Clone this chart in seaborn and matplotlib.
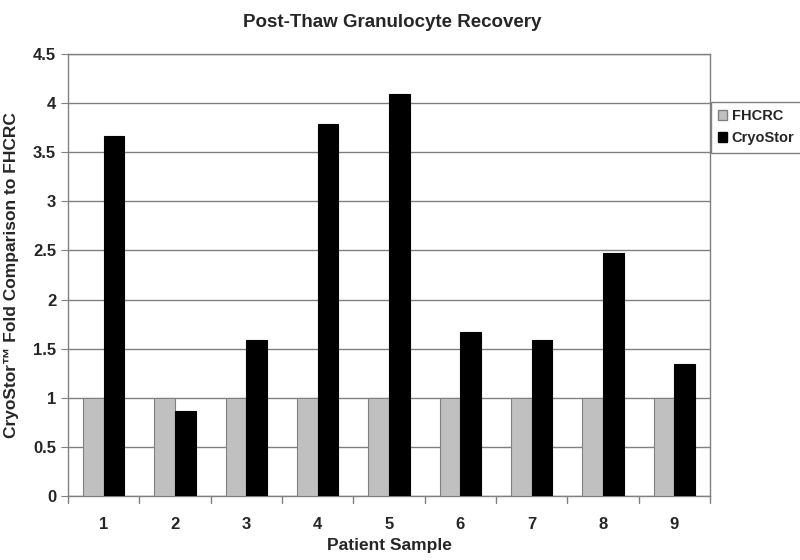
import matplotlib
matplotlib.use("Agg")
import matplotlib.pyplot as plt
import seaborn as sns
import pandas as pd

sns.set_style("white")
plt.rcParams["font.family"] = ["Liberation Sans", "DejaVu Sans"]

patients = ["1", "2", "3", "4", "5", "6", "7", "8", "9"]
fhcrc = [1, 1, 1, 1, 1, 1, 1, 1, 1]
cryostor = [3.66, 0.87, 1.59, 3.79, 4.09, 1.67, 1.59, 2.47, 1.34]

palette = {"FHCRC": "#c0c0c0", "CryoStor": "#000000"}

df = pd.DataFrame({
    "patient": patients * 2,
    "value": fhcrc + cryostor,
    "group": ["FHCRC"] * len(patients) + ["CryoStor"] * len(patients),
})

fig = plt.figure(figsize=(8, 5.6), dpi=100)
ax = fig.add_axes([0.085, 0.114, 0.8025, 0.79])

sns.barplot(data=df, x="patient", y="value", hue="group", palette=palette,
            width=0.58, gap=0, saturation=1, ax=ax, legend=False, zorder=3)
for p in ax.patches:
    if p.get_facecolor()[0] > 0.5:
        p.set_edgecolor("#808080")
    else:
        p.set_edgecolor("#000000")
    p.set_linewidth(0.8)

ax.set_ylim(0, 4.5)
ax.set_xlim(-0.5, 8.5)
ax.set_yticks([0, 0.5, 1, 1.5, 2, 2.5, 3, 3.5, 4, 4.5])
ax.set_yticklabels(["0", "0.5", "1", "1.5", "2", "2.5", "3", "3.5", "4", "4.5"],
                   fontsize=12, fontweight="bold")
ax.set_xticks(range(len(patients)))
ax.set_xticklabels(patients, fontsize=12, fontweight="bold")
ax.tick_params(axis="x", length=0, pad=15)
ax.tick_params(axis="y", length=5, color="#808080", direction="out", left=True)

# category separator ticks on the x axis
for i in range(len(patients) + 1):
    ax.plot([i - 0.5, i - 0.5], [0, -0.07], color="#808080", lw=1,
            clip_on=False, zorder=4)

ax.yaxis.grid(True, color="#808080", lw=1)
ax.set_axisbelow(True)
for s in ax.spines.values():
    s.set_color("#808080")
    s.set_linewidth(1)

ax.set_xlabel("Patient Sample", fontsize=12.5, fontweight="bold", labelpad=4)
ax.set_ylabel("CryoStor\u2122 Fold Comparison to FHCRC", fontsize=12.5,
              fontweight="bold", labelpad=10)
fig.suptitle("Post-Thaw Granulocyte Recovery", fontsize=13.5, fontweight="bold",
             x=0.49, y=0.975)

handles = [plt.Rectangle((0, 0), 1, 1, facecolor=palette[k],
                         edgecolor="#808080" if k == "FHCRC" else "black")
           for k in ["FHCRC", "CryoStor"]]
fig.legend(handles, ["FHCRC", "CryoStor"], loc="upper left",
           bbox_to_anchor=(0.889, 0.818), fancybox=False, edgecolor="#808080",
           prop={"size": 10.5, "weight": "bold"}, handlelength=0.6,
           handleheight=0.6, handletextpad=0.3, borderpad=0.5,
           labelspacing=0.55, framealpha=1, borderaxespad=0)

fig.savefig("out.png", dpi=100)
